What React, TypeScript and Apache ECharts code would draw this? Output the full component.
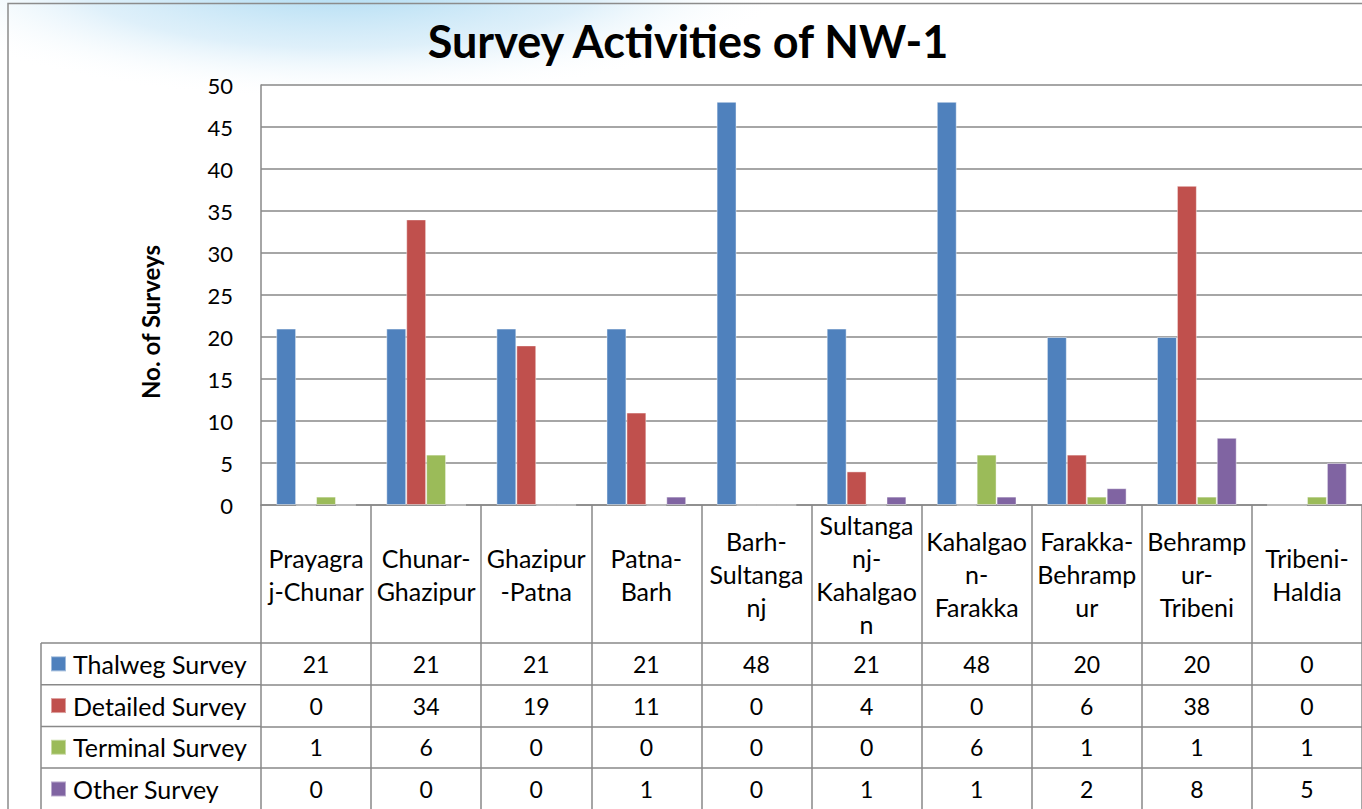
import React, { useEffect, useRef } from "react";
import * as echarts from "echarts";

const categories = [
  "Prayagraj-Chunar",
  "Chunar-Ghazipur",
  "Ghazipur-Patna",
  "Patna-Barh",
  "Barh-Sultanganj",
  "Sultanganj-Kahalgaon",
  "Kahalgaon-Farakka",
  "Farakka-Behrampur",
  "Behrampur-Tribeni",
  "Tribeni-Haldia",
];
const categoryLabels = [
  "Prayagra\nj-Chunar",
  "Chunar-\nGhazipur",
  "Ghazipur\n-Patna",
  "Patna-\nBarh",
  "Barh-\nSultanga\nnj",
  "Sultanga\nnj-\nKahalgao\nn",
  "Kahalgao\nn-\nFarakka",
  "Farakka-\nBehramp\nur",
  "Behramp\nur-\nTribeni",
  "Tribeni-\nHaldia",
];
const seriesNames = ["Thalweg Survey", "Detailed Survey", "Terminal Survey", "Other Survey"];
const thalweg = [21, 21, 21, 21, 48, 21, 48, 20, 20, 0];
const detailed = [0, 34, 19, 11, 0, 4, 0, 6, 38, 0];
const terminal = [1, 6, 0, 0, 0, 0, 6, 1, 1, 1];
const other = [0, 0, 0, 1, 0, 1, 1, 2, 8, 5];
const yMin = 0;
const yMax = 50;
const yInterval = 5;

const seriesData = [thalweg, detailed, terminal, other];
const colors = ["#4f81bd", "#c0504d", "#9bbb59", "#8064a2"];

const FONT = "Lato";
const LINE = "#898989";
const PLOT_LEFT = 261;
const PLOT_TOP = 85;
const PLOT_BOTTOM = 505;
const TABLE_TOP = 643;
const ROW_H = 41.7;
const H = 809;
const W = 1362;

function buildOption(): any {
  const rowAxes = seriesData.map((vals, k) => ({
    type: "category",
    data: categories,
    gridIndex: 0,
    position: "bottom",
    offset: TABLE_TOP + k * ROW_H - PLOT_BOTTOM,
    axisLine: { show: true, lineStyle: { color: LINE, width: 1.5 } },
    axisTick: { show: false },
    splitLine: { show: false },
    axisLabel: {
      interval: 0,
      margin: ROW_H / 2,
      verticalAlign: "middle",
      fontFamily: FONT,
      fontSize: 23,
      color: "#000",
      formatter: (_v: string, idx: number) => String(vals[idx]),
    },
  }));

  const legendLines: any[] = [];
  for (let k = 0; k < 4; k++) {
    const y = TABLE_TOP + k * ROW_H;
    legendLines.push({
      type: "line",
      silent: true,
      shape: { x1: 41, y1: y, x2: PLOT_LEFT, y2: y },
      style: { stroke: LINE, lineWidth: 1.5 },
    });
  }
  legendLines.push({
    type: "line",
    silent: true,
    shape: { x1: 41, y1: TABLE_TOP, x2: 41, y2: H + 5 },
    style: { stroke: LINE, lineWidth: 1.5 },
  });

  return {
    animation: false,
    backgroundColor: "#fff",
    color: colors,
    textStyle: { fontFamily: FONT },
    grid: {
      left: PLOT_LEFT,
      top: PLOT_TOP,
      right: -4.5,
      bottom: H - PLOT_BOTTOM,
      show: true,
      backgroundColor: "#fff",
      borderWidth: 0,
    },
    legend: {
      orient: "vertical",
      left: 50,
      top: TABLE_TOP + ROW_H / 2 - 13,
      padding: 0,
      itemWidth: 15,
      itemHeight: 15,
      itemGap: ROW_H - 26,
      icon: "rect",
      selectedMode: false,
      data: seriesNames,
      textStyle: {
        fontFamily: FONT,
        fontSize: 25,
        lineHeight: 26,
        color: "#000",
        padding: [0, 0, 0, 2],
      },
    },
    xAxis: [
      {
        type: "category",
        data: categories,
        position: "bottom",
        axisLine: { show: true, lineStyle: { color: LINE, width: 1.5 } },
        axisTick: {
          show: true,
          interval: 0,
          length: H - PLOT_BOTTOM + 10,
          lineStyle: { color: LINE, width: 1.5 },
        },
        axisLabel: {
          interval: 0,
          margin: (TABLE_TOP - PLOT_BOTTOM) / 2,
          verticalAlign: "middle",
          lineHeight: 33,
          fontFamily: FONT,
          fontSize: 25,
          color: "#000",
          formatter: (_v: string, idx: number) => categoryLabels[idx],
        },
      },
      ...rowAxes,
    ],
    yAxis: {
      type: "value",
      min: yMin,
      max: yMax,
      interval: yInterval,
      axisLine: { show: true, lineStyle: { color: LINE, width: 1.5 } },
      axisTick: { show: false },
      splitLine: { show: true, lineStyle: { color: LINE, width: 1.5 } },
      axisLabel: { fontFamily: FONT, fontSize: 22, color: "#000", margin: 28 },
    },
    series: seriesNames.map((name, k) => ({
      name,
      type: "bar",
      xAxisIndex: 0,
      yAxisIndex: 0,
      data: seriesData[k],
      barGap: "0%",
      barCategoryGap: "27.6%",
      itemStyle: { color: colors[k], borderColor: "rgba(255,255,255,0.45)", borderWidth: 1 },
    })),
    graphic: [
      {
        type: "ellipse",
        silent: true,
        z: -10,
        shape: { cx: 340, cy: -30, rx: 460, ry: 130 },
        style: {
          fill: new echarts.graphic.RadialGradient(0.5, 0.5, 0.5, [
            { offset: 0, color: "rgba(140,205,238,0.85)" },
            { offset: 0.6, color: "rgba(190,225,245,0.5)" },
            { offset: 1, color: "rgba(255,255,255,0)" },
          ]),
        },
      },
      {
        type: "rect",
        silent: true,
        z: 50,
        shape: { x: 8, y: 3.5, width: W + 20, height: H + 20 },
        style: { fill: "none", stroke: "#8c8c8c", lineWidth: 1.5 },
      },
      {
        type: "text",
        silent: true,
        x: 688,
        y: 41,
        style: {
          text: "Survey Activities of NW-1",
          font: `bold 45px ${FONT}`,
          fontFamily: FONT,
          fontSize: 45,
          fontWeight: "bold",
          fill: "#000",
          align: "center",
          textAlign: "center",
          verticalAlign: "middle",
          textVerticalAlign: "middle",
        },
      },
      {
        type: "text",
        silent: true,
        x: 150,
        y: 322,
        rotation: Math.PI / 2,
        style: {
          text: "No. of Surveys",
          font: `bold 24px ${FONT}`,
          fontFamily: FONT,
          fontSize: 24,
          fontWeight: "bold",
          fill: "#000",
          align: "center",
          textAlign: "center",
          verticalAlign: "middle",
          textVerticalAlign: "middle",
        },
      },
      ...legendLines,
    ],
  };
}

export default function App() {
  const ref = useRef<HTMLDivElement>(null);
  useEffect(() => {
    const chart = echarts.init(ref.current!, null, { renderer: "svg" });
    chart.setOption(buildOption());
    return () => chart.dispose();
  }, []);
  return (
    <div
      ref={ref}
      style={{ position: "fixed", left: 0, top: 0, width: W, height: H, background: "#fff" }}
    />
  );
}
